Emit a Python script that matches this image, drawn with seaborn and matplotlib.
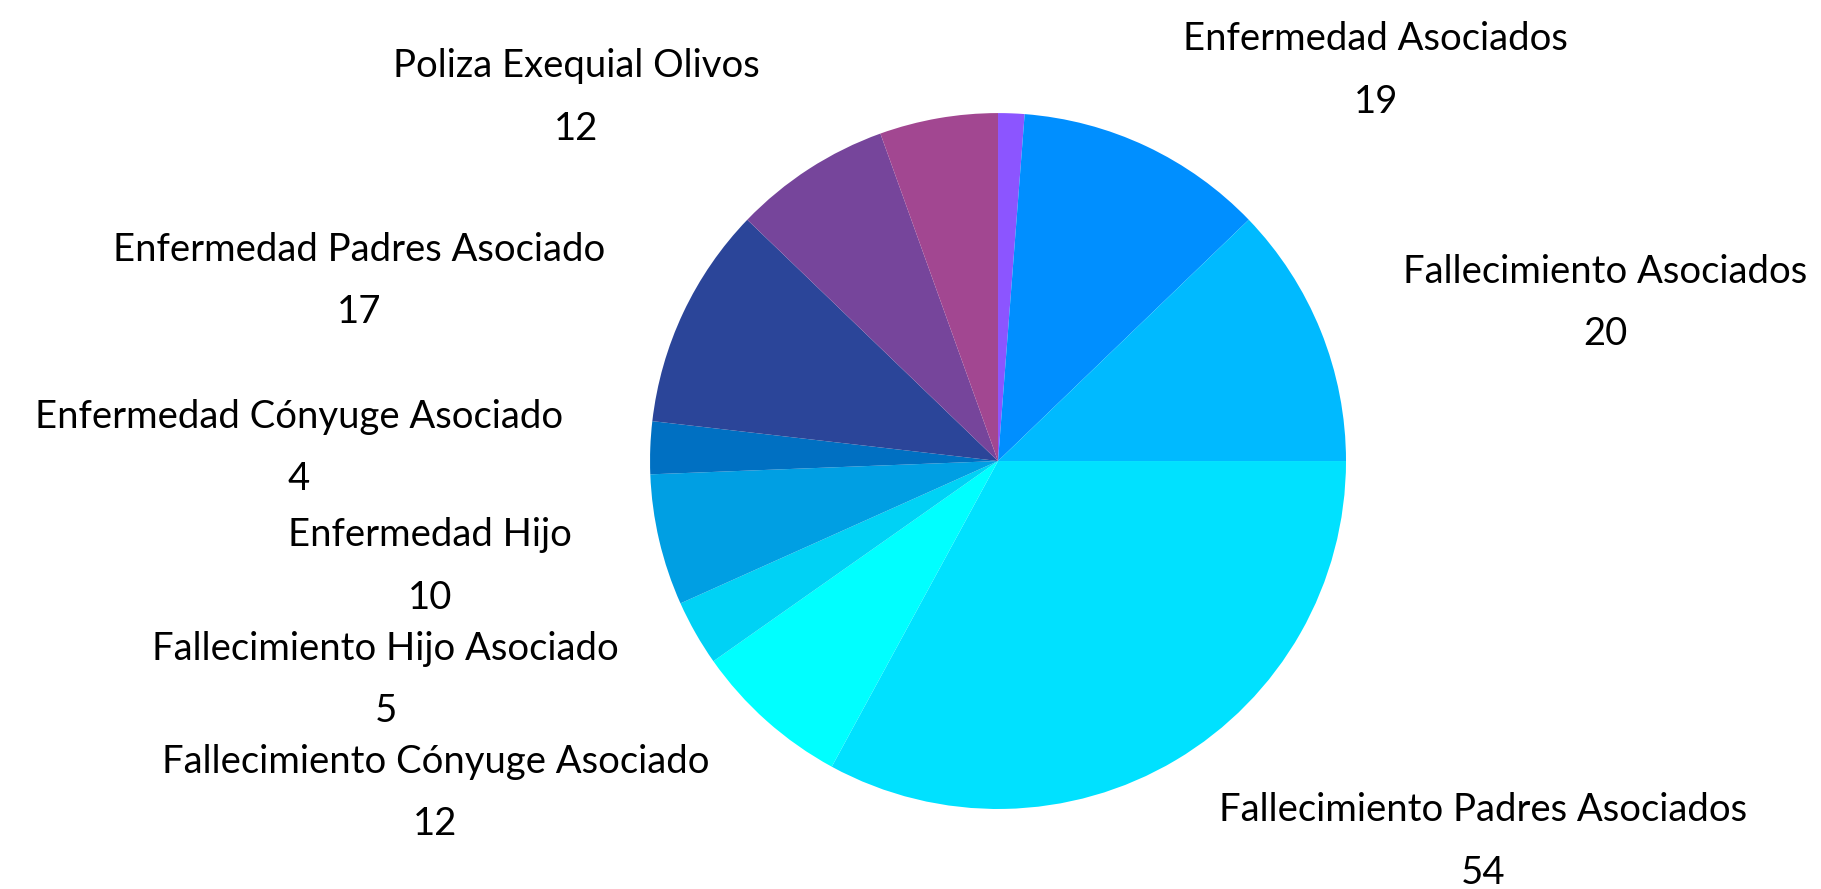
import matplotlib
matplotlib.use("Agg")
import matplotlib.pyplot as plt
import seaborn as sns

# slices, clockwise from 12 o'clock
categories = [
    "",
    "Enfermedad Asociados",
    "Fallecimiento Asociados",
    "Fallecimiento Padres Asociados",
    "Fallecimiento Cónyuge Asociado",
    "Fallecimiento Hijo Asociado",
    "Enfermedad Hijo",
    "Enfermedad Cónyuge Asociado",
    "Enfermedad Padres Asociado",
    "Poliza Exequial Olivos",
    "",
]
values = [2, 19, 20, 54, 12, 5, 10, 4, 17, 12, 9]
colors = ["#8C55FF", "#008FFF", "#00BAFF", "#00E1FF", "#00FFFF", "#00D2F5",
          "#009FE3", "#0070C2", "#2B4599", "#76459B", "#A24791"]

# label anchor points (pie radius units), one per slice
label_pos = [None, (1.086, 1.128), (1.744, 0.460), (1.393, -1.088),
             (-1.617, -0.948), (-1.760, -0.624), (-1.633, -0.297),
             (-2.010, 0.043), (-1.837, 0.524), (-1.213, 1.051), None]

sns.set_theme(style="white")
plt.rcParams['font.family'] = ['Lato', 'DejaVu Sans']

fig = plt.figure(figsize=(18.21, 8.89), dpi=100)
ax = fig.add_axes([0, 0, 1, 1])
ax.pie(values, colors=sns.color_palette(colors), startangle=90,
       counterclock=False, radius=1, wedgeprops=dict(linewidth=0))
ax.set_xlim(-2.868, 2.365)
ax.set_ylim(-1.230, 1.325)
ax.set_aspect('auto')
ax.axis('off')

for name, val, pos in zip(categories, values, label_pos):
    if not name:
        continue
    ax.annotate(name, xy=pos, xytext=(0, 21), textcoords='offset points',
                ha='center', va='center', fontsize=27.5, color='black')
    ax.annotate(str(val), xy=pos, xytext=(0, -24), textcoords='offset points',
                ha='center', va='center', fontsize=27.5, color='black')

fig.savefig("out.png", dpi=100, facecolor='white')
